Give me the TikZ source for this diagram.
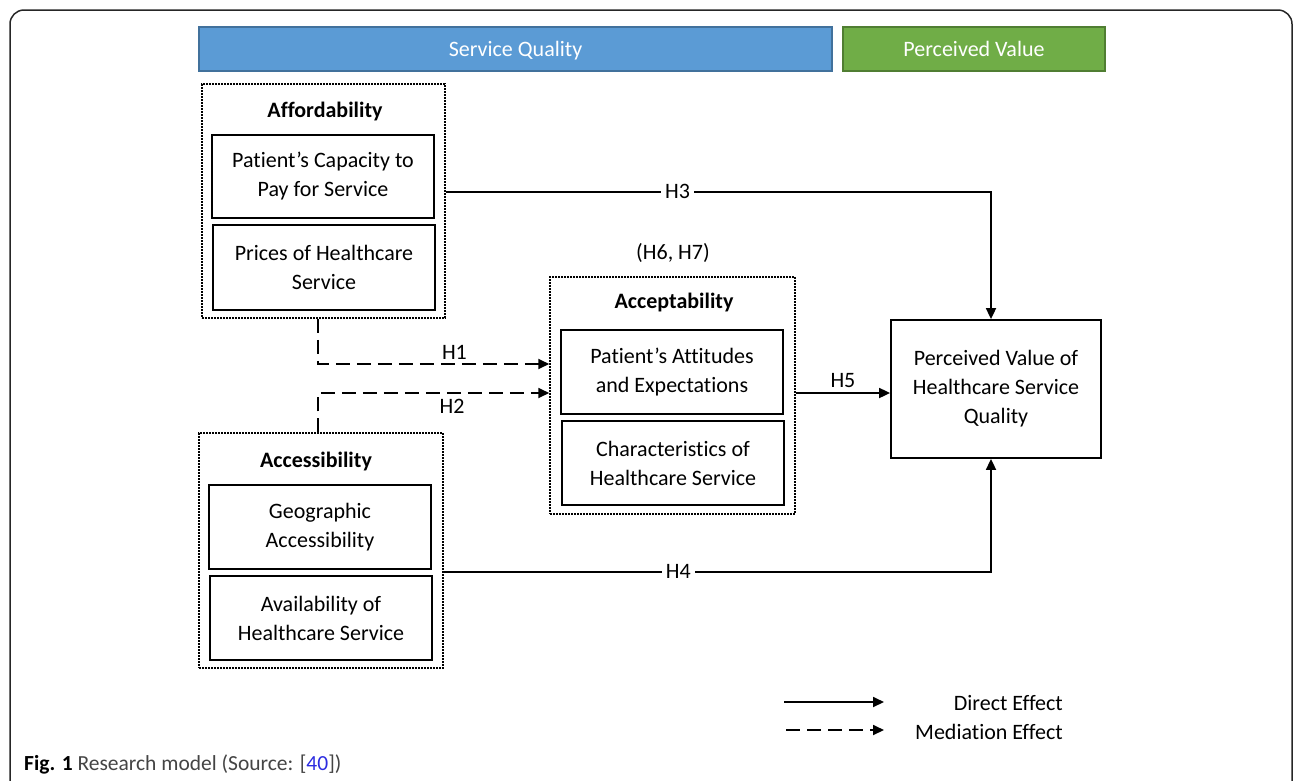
\documentclass[tikz,border=0pt]{standalone}
\usepackage{fontspec}
\setmainfont{Carlito}[Ligatures=NoCommon]
\usetikzlibrary{arrows.meta,calc}
\definecolor{sqblue}{HTML}{5B9BD5}
\definecolor{sqblueb}{HTML}{41719C}
\definecolor{pvgreen}{HTML}{70AD47}
\definecolor{pvgreenb}{HTML}{507E32}
\definecolor{capgray}{HTML}{444444}
\definecolor{linkblue}{HTML}{2B2BE0}
\tikzset{
  txt/.style={font=\fontsize{22}{29}\selectfont, align=center, inner sep=0pt},
  inbox/.style={txt, draw, line width=1.8pt, minimum width=222pt, minimum height=84pt},
  grp/.style={draw, line width=1.5pt, dash pattern=on 1.6pt off 1.4pt, minimum width=244pt, minimum height=235pt, inner sep=0pt},
  bar/.style={txt, text=white, minimum height=44pt, line width=1.2pt, text height=18pt, text depth=3pt},
  ttl/.style={txt, font=\fontsize{22}{29}\selectfont\bfseries},
  conn/.style={line width=1.8pt, -{Triangle[length=11pt,width=10pt]}},
  med/.style={conn, dash pattern=on 14pt off 7pt},
  hl/.style={txt, fill=white, inner xsep=4pt, inner ysep=2pt},
}
\begin{document}
\begin{tikzpicture}[x=1pt,y=-1pt]
\useasboundingbox (0,0) rectangle (1293,780);
\begin{scope}
\clip (0,0) rectangle (1293,780);
\draw[line width=1.5pt, color=black!85, rounded corners=14pt] (10,820) -- (10,10) -- (1292,10) -- (1292,820);
\end{scope}

% header bars
\node[bar, fill=sqblue, draw=sqblueb, minimum width=633pt] (sq) at (515.5,49) {Service Quality};
\node[bar, fill=pvgreen, draw=pvgreenb, minimum width=262pt] (pv) at (974,49) {Perceived Value};

% Affordability group
\node[grp, minimum width=243pt, minimum height=234pt] (aff) at (323.5,201) {};
\node[ttl] (afft) at (325,112) {Affordability};
\node[inbox, minimum height=83pt] (capacity) at (323,176.5) {Patient’s Capacity to\\Pay for Service};
\node[inbox, minimum height=85pt] (price) at (324,267.5) {Prices of Healthcare\\Service};

% Accessibility group
\node[grp] (acc) at (321,550.5) {};
\node[ttl] (acct) at (316,462) {Accessibility};
\node[inbox] (geo) at (320,527) {Geographic\\Accessibility};
\node[inbox] (avail) at (321,618) {Availability of\\Healthcare Service};

% Acceptability group
\node[grp, minimum width=245pt, minimum height=237pt] (accept) at (672.5,395.5) {};
\node[txt] (h67) at (673,253) {(H6, H7)};
\node[ttl] (acceptt) at (674,303) {Acceptability};
\node[inbox] (att) at (672,372) {Patient’s Attitudes\\and Expectations};
\node[inbox] (chr) at (673,463) {Characteristics of\\Healthcare Service};

% Outcome
\node[inbox, minimum width=210pt, minimum height=138pt] (pvq) at (996,389) {Perceived Value of\\Healthcare Service\\Quality};

% Direct effects
\draw[conn] ([yshift=9pt]aff.east) -| node[hl, pos=0.2125, yshift=1pt] {H3} ([xshift=-5pt]pvq.north);
\draw[conn] ([yshift=-21.5pt]acc.east) -| node[hl, pos=0.2144, yshift=1pt] {H4} ([xshift=-5pt]pvq.south);
\draw[conn] ([yshift=2.5pt]accept.east) -- ([yshift=2.5pt]accept.east -| pvq.west) node[midway, txt, above=4pt] {H5};

% Mediation effects
\draw[med] ([xshift=-5.5pt]aff.south) |- node[txt, pos=0.795, above=4pt] {H1} ([yshift=31.5pt]accept.west);
\draw[med] ([xshift=-3pt]acc.north) |- node[txt, pos=0.79, below=5pt] {H2} ([yshift=2.5pt]accept.west);

% Legend
\coordinate (l1a) at (784,702);
\coordinate (l1b) at (884,702);
\coordinate (l2a) at (786,730);
\coordinate (l2b) at (884,730);
\draw[conn] (l1a) -- (l1b);
\draw[med] (l2a) -- (l2b);
\node[txt, anchor=east] (lt1) at (1063,703) {Direct Effect};
\node[txt, anchor=east] (lt2) at (1063,732) {Mediation Effect};

% Caption
\node[anchor=west, inner sep=0pt, font=\fontsize{21.5}{24}\selectfont, text=capgray] (capt) at (24,764) {\textbf{\textcolor{black}{Fig. 1}} Research model (Source: [\textcolor{linkblue}{40}])};
\end{tikzpicture}
\end{document}
